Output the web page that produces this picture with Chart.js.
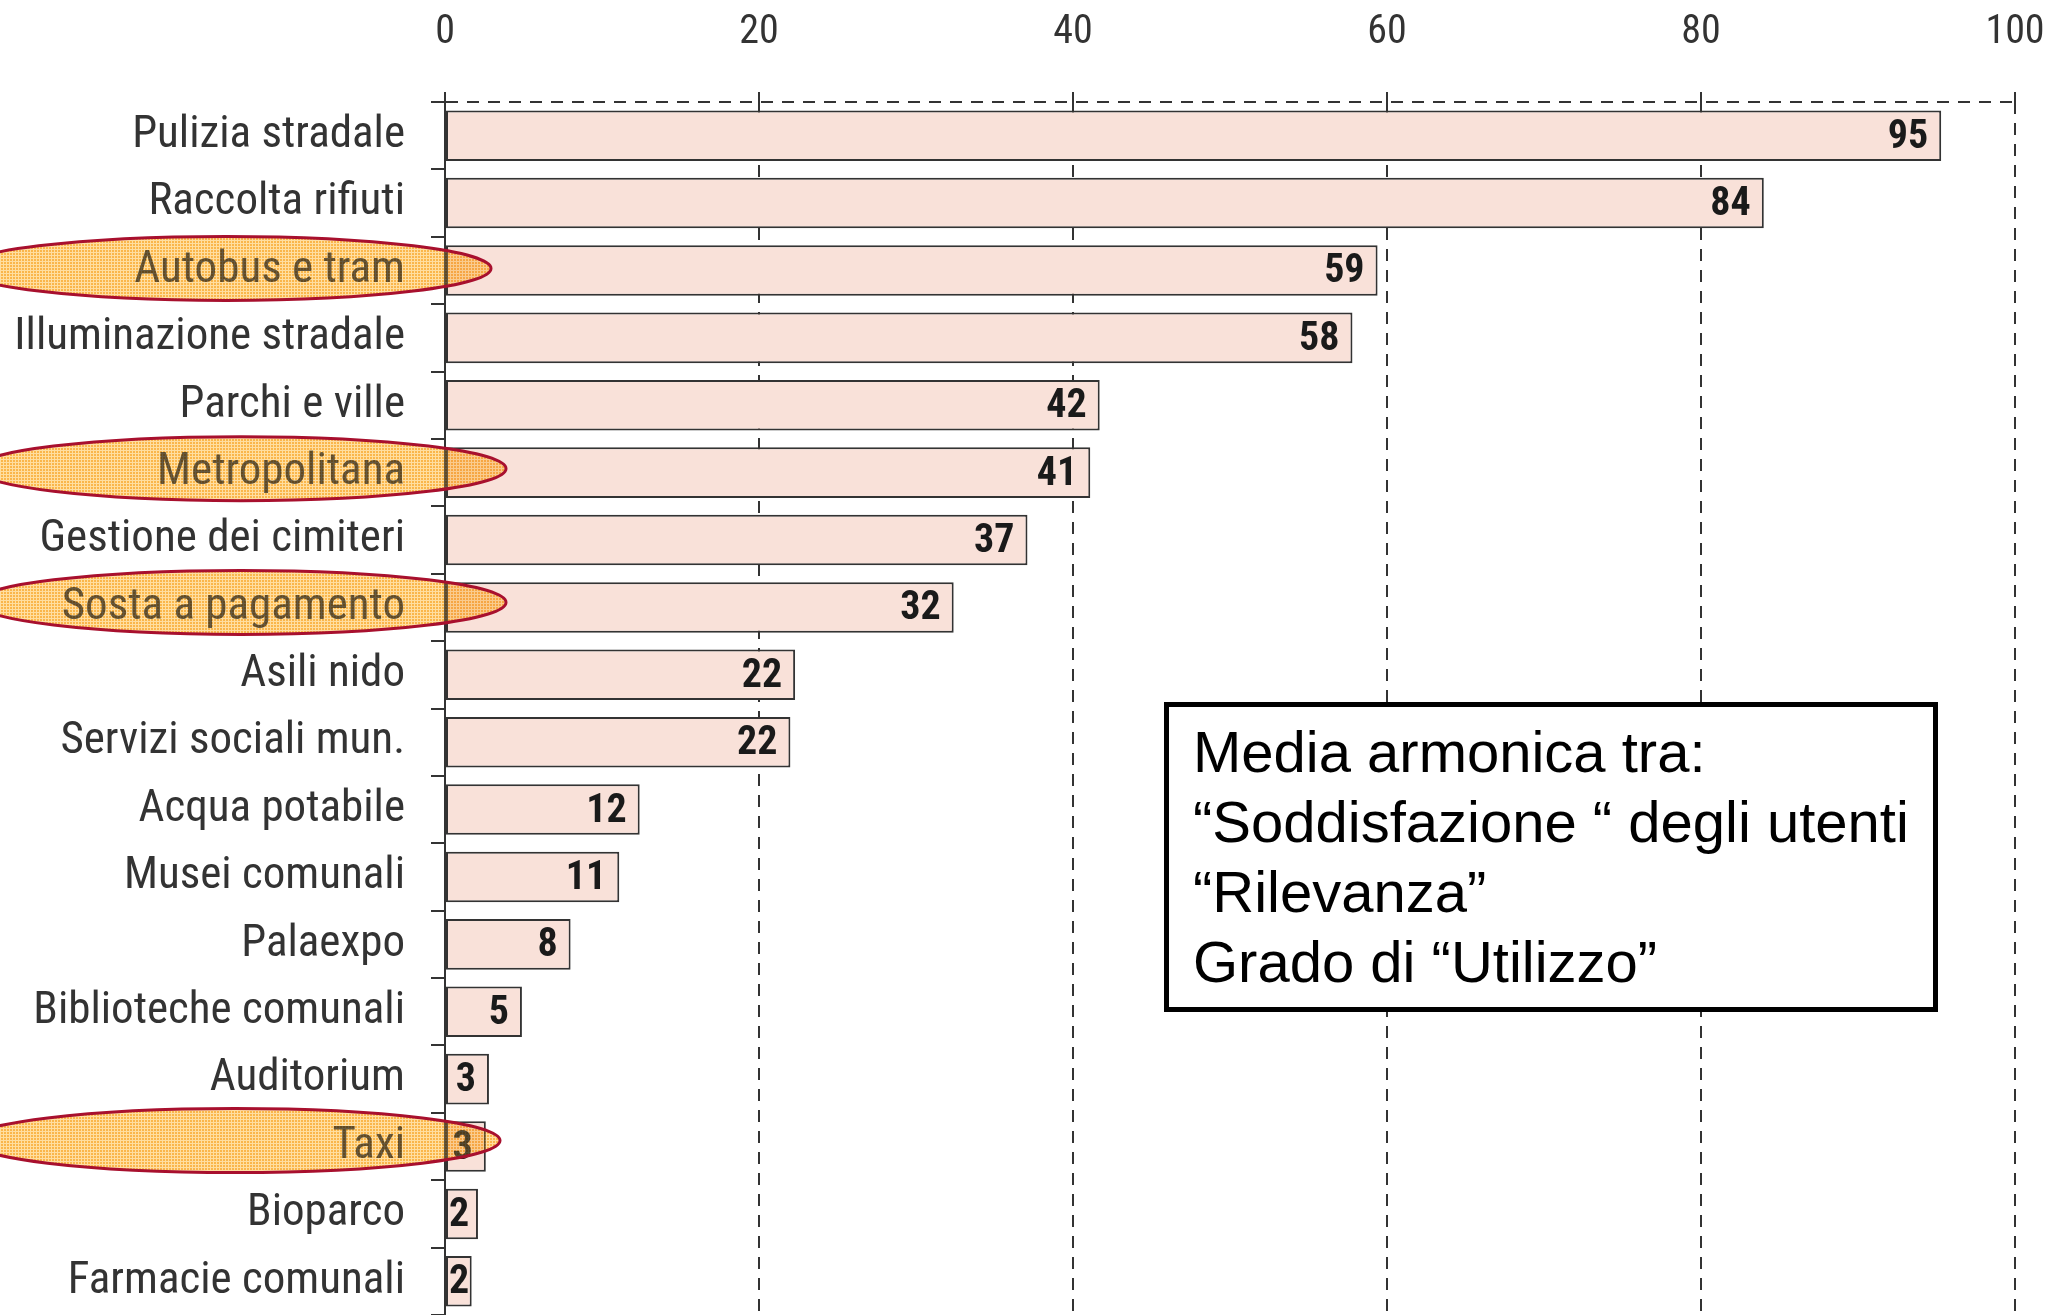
<!DOCTYPE html>
<html>
<head>
<meta charset="utf-8">
<script src="https://cdn.jsdelivr.net/npm/chart.js@4/dist/chart.umd.min.js"></script>
<style>
    html, body { margin: 0; padding: 0; background: #fff; overflow: hidden; }
    #wrap { position: relative; width: 2051px; height: 1315px; }
    #nota {
        position: absolute; left: 1164px; top: 702px;
        width: 774px; height: 310px; box-sizing: border-box;
        border: 5px solid #000; background: #fff;
        padding: 10px 0 0 24px;
        font-family: 'Liberation Sans', Arial, sans-serif;
        font-size: 58px; line-height: 70px; color: #000;
        white-space: nowrap;
    }
</style>
</head>
<body>
<div id="wrap">
    <canvas id="graficoServizi" width="2051" height="1315"></canvas>
    <div id="nota">Media armonica tra:<br>“Soddisfazione “ degli utenti<br>“Rilevanza”<br>Grado di “Utilizzo”</div>
</div>
<script>
const categorie = [
    'Pulizia stradale', 'Raccolta rifiuti', 'Autobus e tram', 'Illuminazione stradale',
    'Parchi e ville', 'Metropolitana', 'Gestione dei cimiteri', 'Sosta a pagamento',
    'Asili nido', 'Servizi sociali mun.', 'Acqua potabile', 'Musei comunali',
    'Palaexpo', 'Biblioteche comunali', 'Auditorium', 'Taxi', 'Bioparco', 'Farmacie comunali'
];
const valori = [95.3, 84, 59.4, 57.8, 41.7, 41.1, 37.1, 32.4, 22.3, 22, 12.4, 11.1, 8, 4.9, 2.8, 2.6, 2.1, 1.7];
const tickAsse = [0, 20, 40, 60, 80, 100];
const evidenziati = ['Autobus e tram', 'Metropolitana', 'Sosta a pagamento', 'Taxi'];

const CONDENSED = "'Roboto Condensed', 'Liberation Sans Narrow', 'Arial Narrow', sans-serif";
// ellissi disegnate a mano: sporgenza a destra dell'asse e spostamento verticale (px)
const sporgenzaEllissi = [46, 61, 61, 55];
const scartoEllissi = [-2, -4, -5, -6];

function creaTrama(ctx) {
    const c = document.createElement('canvas');
    c.width = 3; c.height = 3;
    const g = c.getContext('2d');
    g.fillStyle = 'rgb(250,182,75)';
    g.fillRect(0, 0, 3, 3);
    g.fillStyle = 'rgb(255,222,160)';
    g.fillRect(0, 0, 3, 1);
    g.fillRect(0, 0, 1, 3);
    return ctx.createPattern(c, 'repeat');
}

const etichetteValori = {
    id: 'etichetteValori',
    afterDatasetsDraw(chart) {
        const ctx = chart.ctx;
        const left = chart.chartArea.left;
        ctx.save();
        ctx.font = 'bold 40px ' + CONDENSED;
        ctx.fillStyle = '#1a1a1a';
        ctx.textBaseline = 'middle';
        chart.getDatasetMeta(0).data.forEach(function (bar, i) {
            const testo = String(Math.round(valori[i]));
            const w = ctx.measureText(testo).width;
            let x = bar.x - 13 - w;
            if (x < left + 4) x = left + 4;
            ctx.fillText(testo, x, bar.y + 2);
        });
        ctx.restore();
    }
};

const ellissi = {
    id: 'ellissi',
    afterDraw(chart) {
        const ctx = chart.ctx;
        const scalaY = chart.scales.y;
        const left = chart.chartArea.left;
        const trama = creaTrama(ctx);
        evidenziati.forEach(function (nome, k) {
            const cy = scalaY.getPixelForValue(categorie.indexOf(nome)) + scartoEllissi[k];
            const rx = 265, ry = 32;
            const cx = left + sporgenzaEllissi[k] - rx;
            ctx.save();
            ctx.beginPath();
            ctx.ellipse(cx, cy, rx, ry, 0, 0, Math.PI * 2);
            ctx.fillStyle = trama;
            ctx.globalCompositeOperation = 'multiply';
            ctx.fill();
            // velatura leggera sopra il testo
            ctx.globalCompositeOperation = 'source-over';
            ctx.globalAlpha = 0.25;
            ctx.fill();
            ctx.globalAlpha = 1;
            ctx.strokeStyle = '#a8102e';
            ctx.lineWidth = 3;
            ctx.stroke();
            ctx.restore();
        });
    }
};

new Chart(document.getElementById('graficoServizi'), {
    type: 'bar',
    data: {
        labels: categorie,
        datasets: [{
            data: valori,
            backgroundColor: '#f9e1d9',
            borderColor: '#333',
            borderWidth: 2,
            borderSkipped: false,
            barPercentage: 0.75,
            categoryPercentage: 1
        }]
    },
    options: {
        indexAxis: 'y',
        responsive: false,
        animation: false,
        layout: { padding: { left: 0, right: 36, top: 0, bottom: 0 } },
        plugins: {
            legend: { display: false },
            tooltip: { enabled: false }
        },
        scales: {
            x: {
                type: 'linear',
                position: 'top',
                min: 0,
                max: 100,
                afterBuildTicks: function (s) {
                    s.ticks = tickAsse.map(function (v) { return { value: v }; });
                },
                afterFit: function (s) {
                    s.height = 102;
                    s.paddingLeft = 0;
                    s.paddingRight = 0;
                },
                ticks: {
                    color: '#333',
                    padding: 35,
                    font: { family: CONDENSED, size: 40 }
                },
                grid: {
                    color: '#333',
                    lineWidth: 2,
                    tickLength: 10,
                    tickColor: '#333',
                    tickWidth: 2
                },
                border: { display: false, dash: [12, 9] }
            },
            y: {
                afterFit: function (s) {
                    s.width = 445;
                    s.paddingTop = 0;
                    s.paddingBottom = 0;
                },
                ticks: {
                    color: '#333',
                    padding: 26,
                    font: { family: CONDENSED, size: 45 }
                },
                grid: {
                    offset: true,
                    color: function (c) { return c.index === 0 ? '#333' : 'rgba(0,0,0,0)'; },
                    lineWidth: 2,
                    tickLength: 14,
                    tickColor: '#333',
                    tickWidth: 2
                },
                border: { display: true, color: '#333', width: 2, dash: [12, 9] }
            }
        }
    },
    plugins: [etichetteValori, ellissi]
});
</script>
</body>
</html>
